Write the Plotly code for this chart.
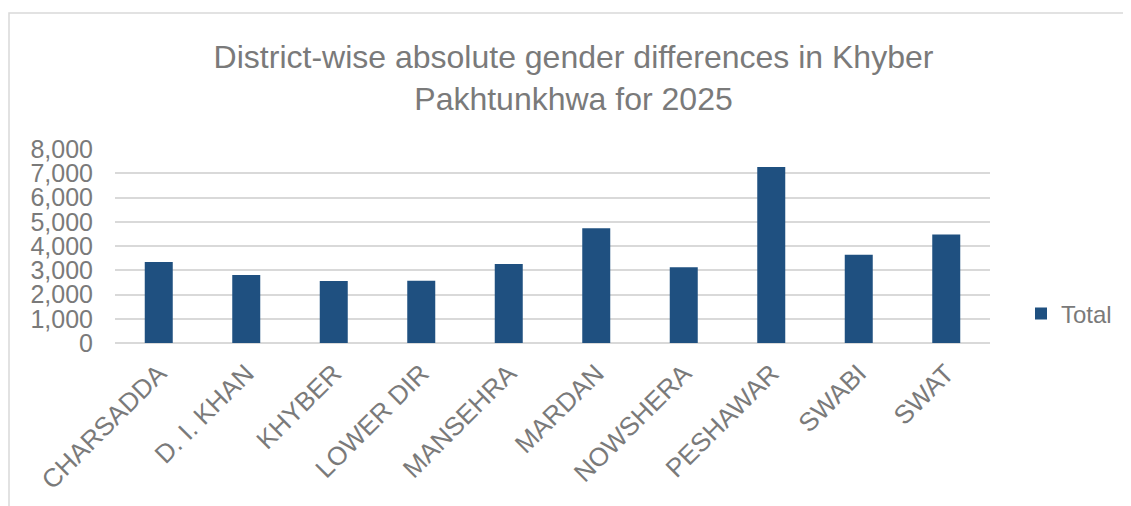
import plotly.graph_objects as go

districts = ["CHARSADDA", "D. I. KHAN", "KHYBER", "LOWER DIR", "MANSEHRA",
             "MARDAN", "NOWSHERA", "PESHAWAR", "SWABI", "SWAT"]
totals = [3340, 2800, 2555, 2565, 3260, 4735, 3120, 7260, 3640, 4470]
y_ticks = [0, 1000, 2000, 3000, 4000, 5000, 6000, 7000, 8000]
y_tick_labels = ["0", "1,000", "2,000", "3,000", "4,000", "5,000", "6,000", "7,000", "8,000"]

W, H = 1131, 506
OFF = 8  # page body margin offset
L, T = 115 - OFF, 149 - OFF
pw, ph = 875, 194
R, B = W - L - pw, H - T - ph

def px(x):  # screen x -> paper
    return (x - OFF - L) / pw

def py(y):  # screen y -> paper
    return 1 - (y - OFF - T) / ph

gray = "#7a7a7a"
font_family = "Liberation Sans, Arial, sans-serif"

fig = go.Figure()
fig.add_trace(go.Bar(
    x=districts, y=totals, name="Total",
    marker=dict(color="#1f5080", line=dict(width=0)),
))

fig.update_layout(
    width=W, height=H,
    margin=dict(l=L, r=R, t=T, b=B),
    paper_bgcolor="white", plot_bgcolor="white",
    bargap=0.68,
    font=dict(family=font_family, color=gray),
    title=dict(
        text="District-wise absolute gender differences in Khyber<br>Pakhtunkhwa for 2025",
        x=0.5, xref="container", xanchor="center",
        y=1 - 60 / H, yref="container", yanchor="middle",
        font=dict(size=32, color=gray, family=font_family),
    ),
    showlegend=True,
    legend=dict(
        x=px(1021), y=py(314), xanchor="left", yanchor="middle",
        font=dict(size=24, color=gray),
        bgcolor="rgba(0,0,0,0)",
    ),
    xaxis=dict(
        tickangle=-45, tickfont=dict(size=26, color=gray),
        showgrid=False, showline=False, ticks="", ticklabelstandoff=9,
    ),
    yaxis=dict(
        range=[0, 8000], tickvals=y_ticks, ticktext=y_tick_labels,
        tickfont=dict(size=25, color=gray),
        showgrid=True, gridcolor="#d9d9d9", gridwidth=1.5,
        zeroline=True, zerolinecolor="#d9d9d9", zerolinewidth=1.5,
        showline=False, ticks="", ticklabelstandoff=21,
    ),
    shapes=[dict(
        type="rect", xref="paper", yref="paper",
        x0=px(9), x1=px(1145), y0=py(520), y1=py(13),
        line=dict(color="#d9d9d9", width=1.5), fillcolor="rgba(0,0,0,0)",
        layer="below",
    )],
)

fig.write_html("out.html")
